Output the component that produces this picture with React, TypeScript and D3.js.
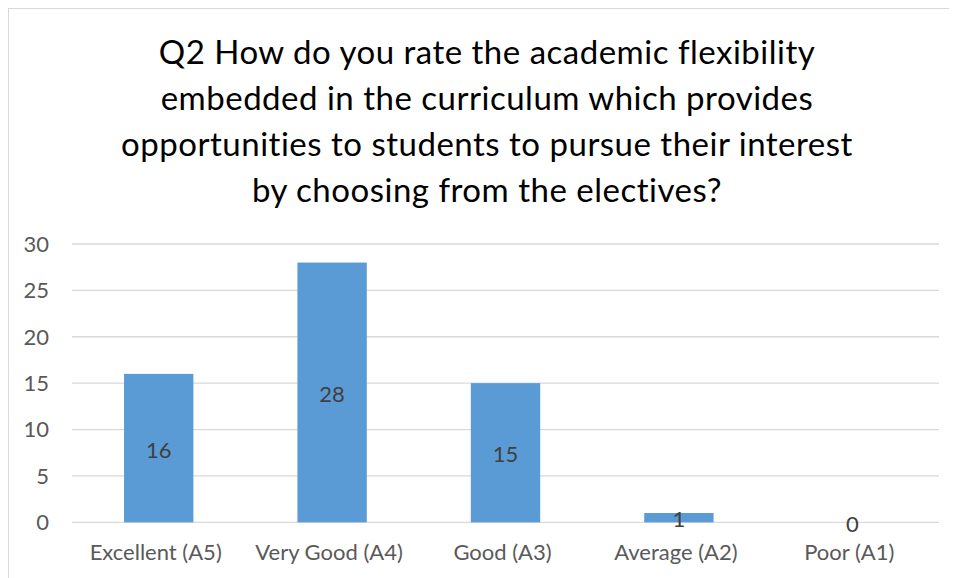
import React from "react";
import * as d3 from "d3";

const categories = ["Excellent (A5)", "Very Good (A4)", "Good (A3)", "Average (A2)", "Poor (A1)"];
const values = [16, 28, 15, 1, 0];
const yTicks = [0, 5, 10, 15, 20, 25, 30];
const titleLines = [
  "Q2 How do you rate the academic flexibility",
  "embedded in the curriculum which provides",
  "opportunities to students to pursue their interest",
  "by choosing from the electives?",
];

const FONT = "Lato, 'Open Sans', sans-serif";

export default function App() {
  const W = 949;
  const H = 570;
  const left = 72, right = 939, top = 244, bottom = 522.3;
  const x = d3.scaleBand<string>().domain(categories).range([left, right]).paddingInner(0.6).paddingOuter(0.3);
  const y = d3.scaleLinear().domain([0, 30]).range([bottom, top]);
  const titleY = [64.3, 110.1, 155.9, 201.7];
  const cx = 487;

  return (
    <svg width={W} height={H} style={{ display: "block", fontVariantLigatures: "none" }} fontFamily={FONT}>
      <g transform="translate(-8,-8)">
        <rect x={8} y={8} width={W} height={H} fill="#fff" />
        <line x1={8.5} x2={8.5} y1={8} y2={8 + H} stroke="#D9D9D9" strokeWidth={1} />
        <line x1={8} x2={8 + W} y1={8.5} y2={8.5} stroke="#D9D9D9" strokeWidth={1} />
        {titleLines.map((t, i) => (
          <text key={i} x={cx} y={titleY[i]} textAnchor="middle" fontSize={33} letterSpacing={0.5} fill="#000">
            {t}
          </text>
        ))}
        {yTicks.map((v) => (
          <g key={v}>
            <line x1={left} x2={right} y1={y(v)} y2={y(v)} stroke="#D9D9D9" strokeWidth={1.3} />
            <text x={49} y={y(v)} dy="0.36em" textAnchor="end" fontSize={22} fill="#595959">
              {v}
            </text>
          </g>
        ))}
        {categories.map((c, i) => (
          <rect
            key={c}
            x={x(c)!}
            y={y(values[i])}
            width={x.bandwidth()}
            height={y(0) - y(values[i])}
            fill="#5B9BD5"
          />
        ))}
        {categories.map((c, i) => (
          <text
            key={c + "l"}
            x={x(c)! + x.bandwidth() / 2}
            y={(y(values[i]) + y(0)) / 2}
            dy="0.44em"
            textAnchor="middle"
            fontSize={22}
            fill="#404040"
          >
            {values[i]}
          </text>
        ))}
        {categories.map((c) => (
          <text key={c + "c"} x={x(c)! + x.bandwidth() / 2 - 3} y={560} textAnchor="middle" fontSize={22} fill="#595959">
            {c}
          </text>
        ))}
      </g>
    </svg>
  );
}
